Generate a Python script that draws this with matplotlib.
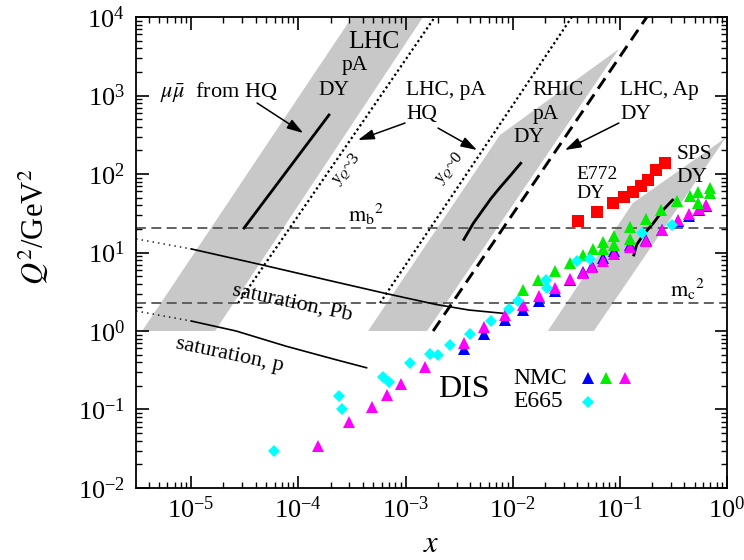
import matplotlib
matplotlib.use('Agg')
import matplotlib.pyplot as plt

plt.rcParams['font.family'] = 'serif'
plt.rcParams['font.serif'] = ['Liberation Serif', 'DejaVu Serif']
plt.rcParams['mathtext.fontset'] = 'stix'
plt.rcParams['axes.unicode_minus'] = False

# kinematic bands (x, Q^2 corners)
band_lhc_x = [3.48e-6, 1.67e-5, 1.46e-3, 3.17e-4]
band_lhc_q2 = [1.0, 1.0, 1e4, 1e4]
band_rhic_x = [4.47e-4, 1.59e-3, 0.098, 7.61e-3]
band_rhic_q2 = [1.0, 1.0, 3910, 314]
band_sps_x = [0.0213, 0.0573, 1.0, 1.0, 0.1324]
band_sps_q2 = [1.0, 1.0, 305, 296, 42.7]

# rapidity lines
yq3_x = [2.74e-5, 1.88e-3]
yq3_q2 = [2.27, 1e4]
yq0_x = [5.78e-4, 0.0357]
yq0_q2 = [2.27, 1e4]
lhc_ap_x = [1.81e-3, 0.179]
lhc_ap_q2 = [1.0, 1e4]

# thresholds
mb2 = 20.25
mc2 = 2.25

# DY reach lines inside the bands
dy_lhc_x = [3.11e-5, 1.93e-4]
dy_lhc_q2 = [20.5, 565]
dy_rhic_x = [3.51e-3, 4.29e-3, 5.2e-3, 6.3e-3, 7.6e-3, 9.3e-3, 0.0119]
dy_rhic_q2 = [14.7, 23.5, 34.0, 49.0, 67.0, 92.0, 137]
dy_sps_x = [0.1354, 0.1435, 0.1652, 0.205, 0.254, 0.311]
dy_sps_q2 = [9.3, 12.5, 16.7, 23.5, 34.8, 46.6]

# saturation scales
satpb_x_dot = [3.06e-6, 1.0e-5]
satpb_q2_dot = [14.9, 11.1]
satpb_x = [1.0e-5, 4.69e-5, 2.25e-4, 6.58e-4, 1.92e-3, 3.91e-3, 8.12e-3]
satpb_q2 = [11.1, 6.9, 4.2, 3.0, 2.18, 1.85, 1.68]
satp_x_dot = [3.06e-6, 1.0e-5]
satp_q2_dot = [1.80, 1.34]
satp_x = [1.0e-5, 2.62e-5, 7.68e-5, 2.25e-4, 4.33e-4]
satp_q2 = [1.34, 1.0, 0.64, 0.43, 0.34]

# E772 DY
e772_x = [0.0409, 0.0615, 0.0867, 0.109, 0.132, 0.158, 0.184, 0.219, 0.263]
e772_q2 = [25.2, 32.5, 42.7, 50.5, 59.0, 70.3, 84.9, 111, 138]

# E665 DIS
e665_x = [5.97e-5, 2.37e-4, 2.53e-4, 6.17e-4, 7.06e-4, 1.10e-3, 1.69e-3, 1.99e-3,
          2.60e-3, 4.0e-3, 6.34e-3, 9.23e-3, 0.0113, 0.0205, 0.0208, 0.0395,
          0.0526, 0.1625, 0.31]
e665_q2 = [0.0299, 0.1465, 0.100, 0.259, 0.227, 0.391, 0.509, 0.488,
           0.663, 0.916, 1.34, 1.91, 2.43, 4.50, 3.50, 7.79,
           8.26, 17.9, 22.4]

# NMC DIS, three sets
nmc_m_x = [1.52e-4, 3.0e-4, 4.87e-4, 6.72e-4, 9.08e-4, 1.51e-3, 3.51e-3, 5.42e-3,
           8.42e-3, 0.0125, 0.0176, 0.0248, 0.0345, 0.045, 0.0555, 0.070,
           0.0891, 0.1234, 0.1745, 0.248, 0.347, 0.444, 0.55, 0.645]
nmc_m_q2 = [0.0343, 0.070, 0.1076, 0.155, 0.213, 0.351, 0.697, 1.12,
            1.61, 2.14, 2.83, 3.53, 4.56, 5.53, 6.48, 7.79,
            9.57, 11.9, 14.0, 19.4, 25.9, 30.8, 35.6, 40.3]
nmc_b_x = [3.51e-3, 5.46e-3, 8.48e-3, 0.0125, 0.0176, 0.0248, 0.0345, 0.045,
           0.0555, 0.070, 0.0891, 0.1234, 0.1745, 0.248, 0.347, 0.444, 0.55, 0.645]
nmc_b_q2 = [0.585, 0.916, 1.39, 1.85, 2.41, 3.28, 4.40, 5.64,
            6.83, 8.44, 10.3, 12.5, 14.6, 19.1, 25.2, 29.6, 34.3, 39.1]
nmc_g_x = [0.0125, 0.0173, 0.0248, 0.0344, 0.045, 0.0557, 0.0691, 0.070,
           0.0887, 0.0887, 0.1242, 0.1242, 0.174, 0.245, 0.343, 0.448,
           0.539, 0.539, 0.692, 0.692]
nmc_g_q2 = [3.33, 4.40, 5.81, 7.41, 9.29, 11.0, 13.7, 11.0,
            16.4, 12.5, 20.9, 14.7, 26.7, 34.8, 45.3, 53.2,
            59.5, 43.1, 65.7, 56.8]

fig = plt.figure(figsize=(7.44, 5.6), dpi=100)
ax = fig.add_axes([0.183, 0.1286, 0.794, 0.841])
ax.set_xscale('log')
ax.set_yscale('log')
ax.set_xlim(3.06e-6, 1.0)
ax.set_ylim(1e-2, 1e4)

grey = '#c8c8c8'
for bx, bq in [(band_lhc_x, band_lhc_q2), (band_rhic_x, band_rhic_q2), (band_sps_x, band_sps_q2)]:
    ax.fill(bx, bq, color=grey, lw=0, zorder=1)

ax.axhline(mb2, color='#555555', lw=1.3, dashes=(5.5, 3), zorder=2)
ax.axhline(mc2, color='#555555', lw=1.3, dashes=(5.5, 3), zorder=2)

ax.plot(yq3_x, yq3_q2, color='k', lw=1.6, ls=(0, (1, 1.3)), zorder=3)
ax.plot(yq0_x, yq0_q2, color='k', lw=1.6, ls=(0, (1, 1.3)), zorder=3)
ax.plot(lhc_ap_x, lhc_ap_q2, color='k', lw=2.1, dashes=(4.3, 2.4), zorder=3)

for lx, lq in [(dy_lhc_x, dy_lhc_q2), (dy_rhic_x, dy_rhic_q2), (dy_sps_x, dy_sps_q2)]:
    ax.plot(lx, lq, color='k', lw=2.0, zorder=3)

ax.plot(satpb_x_dot, satpb_q2_dot, color='k', lw=1.0, ls=(0, (1, 3)), zorder=3)
ax.plot(satpb_x, satpb_q2, color='k', lw=1.2, zorder=3)
ax.plot(satp_x_dot, satp_q2_dot, color='k', lw=1.0, ls=(0, (1, 3)), zorder=3)
ax.plot(satp_x, satp_q2, color='k', lw=1.2, zorder=3)

# arrows: (tail, head)
arrows = [((4.12e-5, 802), (1.11e-4, 333)),
          ((9.9e-4, 446), (3.6e-4, 271)),
          ((2.01e-3, 385), (4.65e-3, 202)),
          ((0.098, 446), (0.0308, 202))]
for tail, head in arrows:
    ax.annotate('', xy=head, xytext=tail,
                arrowprops=dict(arrowstyle='-|>,head_length=0.7,head_width=0.22',
                                color='k', lw=1.1, shrinkA=0, shrinkB=0,
                                mutation_scale=14), zorder=4)

tri_ms = 9
ax.plot(nmc_b_x, nmc_b_q2, '^', color='#0000ff', ms=tri_ms, mew=0, zorder=5)
ax.plot(nmc_m_x, nmc_m_q2, '^', color='#ff00ff', ms=tri_ms, mew=0, zorder=6)
ax.plot(nmc_g_x, nmc_g_q2, '^', color='#00ee00', ms=tri_ms, mew=0, zorder=6)
ax.plot(e665_x, e665_q2, 'D', color='#00ffff', ms=6.3, mew=0, zorder=7)
ax.plot(e772_x, e772_q2, 's', color='#ff0000', ms=8.5, mew=0, zorder=7)

# legend markers
ax.plot([0.765], [0.2335], '^', color='#0000ff', ms=tri_ms, mew=0, transform=ax.transAxes)
ax.plot([0.795], [0.2335], '^', color='#00ee00', ms=tri_ms, mew=0, transform=ax.transAxes)
ax.plot([0.827], [0.2335], '^', color='#ff00ff', ms=tri_ms, mew=0, transform=ax.transAxes)
ax.plot([0.765], [0.1826], 'D', color='#00ffff', ms=6.3, mew=0, transform=ax.transAxes)

labels = [
    ('LHC', 0.3587, 0.947, 18.5),
    ('pA', 0.3486, 0.898, 15.5),
    ('DY', 0.308, 0.843, 15.5),
    (r'$\mu\bar{\mu}$  from HQ', 0.0406, 0.841, 16),
    ('LHC, pA', 0.4569, 0.845, 15.5),
    ('HQ', 0.4569, 0.794, 15.5),
    ('RHIC', 0.670, 0.845, 15.5),
    ('pA', 0.6717, 0.792, 15.5),
    ('DY', 0.638, 0.745, 15.5),
    ('LHC, Ap', 0.819, 0.845, 15.5),
    ('DY', 0.819, 0.794, 15.5),
    ('E772', 0.746, 0.666, 14),
    ('DY', 0.746, 0.626, 14),
    ('SPS', 0.9154, 0.709, 15.5),
    ('DY', 0.9154, 0.660, 15.5),
    ('DIS', 0.511, 0.210, 23),
    ('NMC', 0.638, 0.2335, 17),
    ('E665', 0.638, 0.1826, 17),
]
for s, fx, fy, size in labels:
    ax.text(fx, fy, s, transform=ax.transAxes, fontsize=size, ha='left', va='center', zorder=8)

ax.text(0.3587, 0.565, r'$\mathrm{m_b}^{2}$', transform=ax.transAxes, fontsize=16, va='baseline')
ax.text(0.9036, 0.4055, r'$\mathrm{m_c}^{2}$', transform=ax.transAxes, fontsize=16, va='baseline')

ax.text(0.357, 0.677, r'y$_Q$~3', transform=ax.transAxes, fontsize=12, rotation=50,
        ha='center', va='center')
ax.text(0.531, 0.679, r'y$_Q$~0', transform=ax.transAxes, fontsize=12, rotation=50,
        ha='center', va='center')
ax.text(0.265, 0.394, 'saturation, Pb', transform=ax.transAxes, fontsize=16, rotation=-12,
        ha='center', va='center')
ax.text(0.158, 0.283, 'saturation, p', transform=ax.transAxes, fontsize=16, rotation=-12,
        ha='center', va='center')

ax.text(0.499, -0.12, r'$x$', transform=ax.transAxes, fontsize=22, ha='center', va='center')
ax.text(-0.174, 0.554, r'$Q^2$/GeV$^2$', transform=ax.transAxes, fontsize=22, rotation=90,
        ha='center', va='center')

ax.tick_params(which='both', direction='in', top=True, right=True)
ax.tick_params(which='major', length=9, width=1.2, labelsize=19)
ax.tick_params(which='minor', length=4.5, width=1.0)
ax.tick_params(axis='y', which='major', pad=8)
ax.tick_params(axis='x', which='major', pad=6)
for sp in ax.spines.values():
    sp.set_linewidth(1.3)

fig.savefig('out.png', dpi=100)
